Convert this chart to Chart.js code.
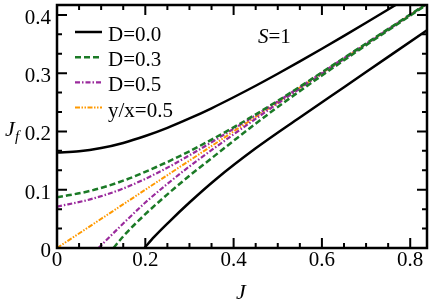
<!DOCTYPE html>
<html>
<head>
<meta charset="utf-8">
<script src="https://cdn.jsdelivr.net/npm/chart.js@4/dist/chart.umd.min.js"></script>
<style>
  html, body { margin: 0; padding: 0; background: #fff; }
  #wrap { width: 432px; height: 305px; position: relative; }
  #grafico { position: absolute; left: 0; top: 0; }
  .rot { position: absolute; z-index: 2; font-family: 'Liberation Serif'; line-height: 1; white-space: nowrap; color: #000; }
</style>
</head>
<body>
<div id="wrap">
  <canvas id="grafico" width="432" height="305"></canvas>
</div>
<script>
// ===== dados =====
const jD0Sup  = [0, 0.05, 0.1, 0.15, 0.2, 0.25, 0.3, 0.35, 0.4, 0.45, 0.5, 0.55, 0.6, 0.65, 0.7, 0.75, 0.8];
const jfD0Sup = [0.164, 0.1659, 0.1715, 0.1803, 0.1921, 0.2062, 0.2223, 0.2398, 0.2587, 0.2784, 0.299, 0.3202, 0.3419, 0.364, 0.3865, 0.4093, 0.4323];
const jD0Inf  = [0.198, 0.22, 0.25, 0.3, 0.36, 0.45, 0.55, 0.65, 0.75, 0.85];
const jfD0Inf = [0, 0.019, 0.042, 0.078, 0.118, 0.171, 0.224, 0.276, 0.328, 0.38];

const jD3Sup  = [0, 0.075, 0.15, 0.225, 0.3, 0.4, 0.5, 0.6, 0.7, 0.85];
const jfD3Sup = [0.087, 0.098, 0.1155, 0.139, 0.166, 0.207, 0.2525, 0.3015, 0.351, 0.4255];
const jD3Inf  = [0.128, 0.15, 0.2, 0.25, 0.3, 0.35, 0.4, 0.5, 0.6, 0.7, 0.85];
const jfD3Inf = [0, 0.02, 0.058, 0.092, 0.124, 0.154, 0.184, 0.242, 0.296, 0.348, 0.424];

const jD5Sup  = [0, 0.075, 0.15, 0.225, 0.3, 0.4, 0.5, 0.6, 0.7, 0.85];
const jfD5Sup = [0.071, 0.0835, 0.102, 0.128, 0.159, 0.2045, 0.2515, 0.301, 0.3505, 0.4252];
const jD5Inf  = [0.094, 0.15, 0.2, 0.25, 0.3, 0.4, 0.5, 0.6, 0.7, 0.85];
const jfD5Inf = [0, 0.042, 0.078, 0.11, 0.14, 0.195, 0.248, 0.299, 0.3495, 0.4248];

const jReta  = [0, 0.85];
const jfReta = [0, 0.425];

const xTicks = [0, 0.2, 0.4, 0.6, 0.8];
const xLabels = ['0', '0.2', '0.4', '0.6', '0.8'];
const xMinor = [0.05, 0.1, 0.15, 0.25, 0.3, 0.35, 0.45, 0.5, 0.55, 0.65, 0.7, 0.75];
const yTicks = [0, 0.1, 0.2, 0.3, 0.4];
const yLabels = ['0', '0.1', '0.2', '0.3', '0.4'];
const yMinor = [0.0333, 0.0667, 0.1333, 0.1667, 0.2333, 0.2667, 0.3333, 0.3667];

const legendaNomes = ['D=0.0', 'D=0.3', 'D=0.5', 'y/x=0.5'];

function pontos(xs, ys) { return xs.map((x, i) => ({ x: x, y: ys[i] })); }

const estilos = [
  { cor: '#000000', larg: 2.5, traco: [] },
  { cor: '#1b7a26', larg: 2.5, traco: [6, 3] },
  { cor: '#9a2a9c', larg: 2.2, traco: [5, 2, 1.5, 2] },
  { cor: '#ff9900', larg: 2, traco: [5, 1.5, 1.5, 1.5, 1.5, 1.5] }
];

function serie(xs, ys, e) {
  return {
    data: pontos(xs, ys),
    borderColor: e.cor,
    borderWidth: e.larg,
    borderDash: e.traco,
    pointRadius: 0,
    fill: false,
    cubicInterpolationMode: 'monotone'
  };
}

// ===== moldura, ticks internos e amostras da legenda =====
const moldura = {
  id: 'moldura',
  afterDatasetsDraw(chart) {
    const ctx = chart.ctx;
    const a = chart.chartArea;
    const sx = chart.scales.x, sy = chart.scales.y;
    ctx.save();
    ctx.strokeStyle = '#000';
    ctx.lineWidth = 2;
    ctx.setLineDash([]);
    const marca = (vals, len) => {
      vals.forEach(v => {
        const px = sx.getPixelForValue(v);
        ctx.beginPath();
        ctx.moveTo(px, a.bottom); ctx.lineTo(px, a.bottom - len);
        ctx.moveTo(px, a.top); ctx.lineTo(px, a.top + len);
        ctx.stroke();
      });
    };
    const marcaY = (vals, len) => {
      vals.forEach(v => {
        const py = sy.getPixelForValue(v);
        ctx.beginPath();
        ctx.moveTo(a.left, py); ctx.lineTo(a.left + len, py);
        ctx.moveTo(a.right, py); ctx.lineTo(a.right - len, py);
        ctx.stroke();
      });
    };
    marca(xTicks, 10); marca(xMinor, 5);
    marcaY(yTicks, 10); marcaY(yMinor, 5);
    ctx.lineWidth = 2.5;
    ctx.strokeRect(a.left, a.top, a.right - a.left, a.bottom - a.top);

    legendaNomes.forEach((nome, i) => {
      const y = 32 + i * 25.2;
      const e = estilos[i];
      ctx.beginPath();
      ctx.strokeStyle = e.cor;
      ctx.lineWidth = e.larg;
      ctx.setLineDash(e.traco);
      ctx.moveTo(75, y); ctx.lineTo(102, y);
      ctx.stroke();
    });
    ctx.restore();
  }
};

const grafico = new Chart(document.getElementById('grafico'), {
  type: 'line',
  data: {
    datasets: [
      serie(jD0Sup, jfD0Sup, estilos[0]),
      serie(jD0Inf, jfD0Inf, estilos[0]),
      serie(jD3Sup, jfD3Sup, estilos[1]),
      serie(jD3Inf, jfD3Inf, estilos[1]),
      serie(jD5Sup, jfD5Sup, estilos[2]),
      serie(jD5Inf, jfD5Inf, estilos[2]),
      serie(jReta, jfReta, estilos[3])
    ]
  },
  options: {
    responsive: false,
    animation: false,
    layout: { padding: { left: 0, top: 5, right: 5, bottom: 0 } },
    plugins: { legend: { display: false }, tooltip: { enabled: false } },
    scales: {
      x: {
        type: 'linear',
        min: 0, max: 0.838,
        grid: { display: false, drawTicks: false },
        border: { display: false },
        afterBuildTicks: s => { s.ticks = xTicks.map(v => ({ value: v })); },
        afterFit: s => { s.height = 57; s.paddingLeft = 0; s.paddingRight = 0; },
        ticks: { display: false }
      },
      y: {
        type: 'linear',
        min: 0, max: 0.417,
        grid: { display: false, drawTicks: false },
        border: { display: false },
        afterBuildTicks: s => { s.ticks = yTicks.map(v => ({ value: v })); },
        afterFit: s => { s.width = 57; s.paddingTop = 0; s.paddingBottom = 0; },
        ticks: { display: false }
      }
    }
  },
  plugins: [moldura]
});

// ===== textos como elementos HTML (fonte serifada) =====
const wrap = document.getElementById('wrap');
function rotulo(html, x, y, alinhar, tam, italico) {
  const el = document.createElement('span');
  el.className = 'rot';
  el.innerHTML = html;
  el.style.left = x + 'px';
  el.style.top = y + 'px';
  el.style.fontSize = tam + 'px';
  if (italico) el.style.fontStyle = 'italic';
  const dx = alinhar === 'center' ? '-50%' : (alinhar === 'right' ? '-100%' : '0');
  el.style.transform = 'translate(' + dx + ', -50%)';
  wrap.appendChild(el);
}

const area = grafico.chartArea;
xTicks.forEach((v, i) => rotulo(xLabels[i], grafico.scales.x.getPixelForValue(v), area.bottom + 11, 'center', 21));
yTicks.forEach((v, i) => rotulo(yLabels[i], area.left - 6, grafico.scales.y.getPixelForValue(v) + 2, 'right', 21));
legendaNomes.forEach((nome, i) => rotulo(nome, 108, 34 + i * 25.2, 'left', 21));
rotulo('<i>S</i>=1', 258, 36, 'left', 21);
rotulo('J', 241, 292, 'center', 22, true);
rotulo('J', 10, 129, 'center', 22, true);
rotulo('f', 17, 136, 'center', 15, true);
</script>
</body>
</html>
